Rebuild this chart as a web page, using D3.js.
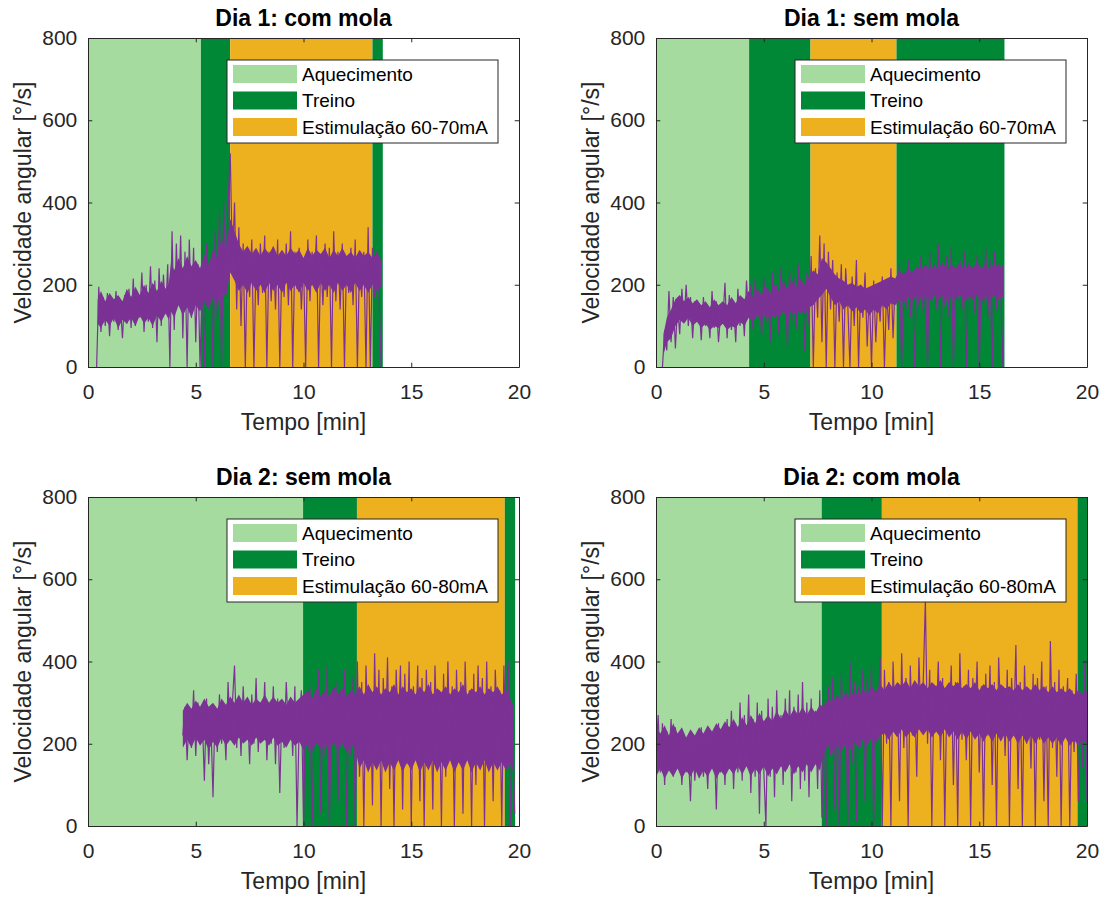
<!DOCTYPE html>
<html>
<head>
<meta charset="utf-8">
<script src="https://cdn.jsdelivr.net/npm/d3@7"></script>
<style>
body { margin: 0; background: #fff; }
text { font-family: "Liberation Sans", Arial, sans-serif; }
</style>
</head>
<body>
<svg id="fig" width="1110" height="897"></svg>
<script>
// panel titles and legend labels
var titles = ["Dia 1: com mola", "Dia 1: sem mola", "Dia 2: sem mola", "Dia 2: com mola"];
var legendDia1 = ["Aquecimento", "Treino", "Estimulação 60-70mA"];
var legendDia2 = ["Aquecimento", "Treino", "Estimulação 60-80mA"];

var xTicks = [0, 5, 10, 15, 20];
var yTicks = [0, 200, 400, 600, 800];

// phases: [start min, end min, phase index] 0 = aquecimento, 1 = treino, 2 = estimulacao
var phases1 = [[0, 5.24, 0], [5.24, 6.6, 1], [6.6, 13.2, 2], [13.2, 13.68, 1]];
var phases2 = [[0, 4.32, 0], [4.32, 7.17, 1], [7.17, 11.16, 2], [11.16, 16.17, 1]];
var phases3 = [[0, 9.98, 0], [9.98, 12.48, 1], [12.48, 19.34, 2], [19.34, 19.82, 1]];
var phases4 = [[0, 7.69, 0], [7.69, 10.48, 1], [10.48, 19.56, 2], [19.56, 20, 1]];

// angular velocity [deg/s] peaks, one sample every 0.1 min from the start time
var dt = 0.1;
var starts = [0.4, 0.3, 4.4, 0];

var sig1 = [0,
  195, 85, 170, 100, 180, 75, 160, 110, 185, 90, 150, 70, 175, 105, 190, 95,
  215, 100, 180, 120, 230, 85, 200, 110, 245, 95,
  210, 60, 240, 100, 225, 130, 250,
  0, 330, 90, 300, 150, 320, 70, 280,
  0, 310, 120, 290, 60, 250, 0,
  230, 0, 300, 160, 240, 0, 330, 120, 380, 0, 400, 180, 390,
  520, 250, 400, 140, 340, 100, 300,
  0, 290, 170, 310, 0, 270, 150, 300,
  180, 320, 0, 280, 160, 290, 140, 310, 0, 270,
  170, 300, 150, 330, 0, 280, 190, 290, 140, 260,
  0, 310, 160, 280, 200, 320, 0, 270, 150, 300,
  170, 290, 0, 330, 160, 280, 140, 300, 0, 270,
  180, 290, 150, 310, 0, 260, 170, 280, 0, 340,
  0, 290, 170, 280, 190, 0];

var sig2 = [0,
  90, 40, 185, 60, 170, 45, 150,
  80, 190, 110, 200, 100, 170, 70, 160, 120, 150,
  65, 170, 100, 140, 70, 185, 95, 160, 60, 130,
  110, 205, 70, 175, 90, 150, 60, 190, 100, 165, 75, 210,
  120, 200, 90, 215, 130, 180, 75, 220, 110, 190,
  60, 230, 120, 200, 80, 240, 140, 210, 50, 235,
  110, 220, 90, 250, 130, 200, 40, 230, 100,
  270, 0, 240, 120, 320, 60, 300, 0, 280,
  140, 260, 0, 230, 110, 250, 0, 240, 150, 0,
  220, 100, 260, 0, 200, 120, 230, 50, 190, 0,
  210, 60, 180, 110, 220, 0, 190, 90, 240, 70, 210,
  150, 250, 0, 230, 140, 260, 120, 220, 0,
  240, 150, 270, 130, 230, 0, 280, 160, 250, 140,
  300, 0, 240, 150, 270, 120, 290, 0, 230, 160,
  260, 140, 280, 0, 250, 170, 240, 130, 270, 0,
  230, 150, 290, 120, 260, 0, 280, 140, 250, 180, 0];

var sig3 = [
  220, 290, 160, 280, 190, 330, 170,
  300, 200, 270, 110, 310, 150, 260, 70, 290, 180,
  320, 200, 280, 160, 350, 210, 300, 390, 190, 310,
  170, 340, 220, 290, 150, 320, 200, 360, 180, 300,
  210, 350, 160, 290, 200, 340, 150, 310, 80, 290,
  190, 350, 230, 300, 170, 340, 0, 250, 330,
  0, 300, 180, 340, 0, 290, 200, 380, 30, 320, 170,
  390, 0, 300, 190, 350, 60, 330, 210, 380, 0, 310, 170, 360, 0,
  400, 120, 350, 0, 390, 210, 330, 50, 420, 160, 380,
  0, 360, 200, 410, 90, 340, 0, 380, 230, 390, 40,
  370, 150, 400, 0, 340, 200, 390, 60, 360, 0, 380,
  180, 350, 40, 390, 210, 330, 0, 370, 120, 400, 190,
  340, 0, 380, 160, 350, 30, 400, 210, 330, 0, 370,
  100, 390, 190, 360, 0, 400, 150, 340, 60, 380, 220,
  330, 0, 390, 140, 400, 0, 260, 30];

var sig4 = [
  170, 270, 130, 250, 100, 230, 150, 260, 120, 240, 140,
  210, 100, 200, 130, 180, 60, 220, 110, 190, 140,
  240, 120, 200, 90, 230, 150, 210, 40, 250, 130,
  220, 100, 260, 140, 280, 90, 240, 130, 300, 110,
  270, 150, 320, 80, 260, 120, 300, 30, 280, 140,
  0, 310, 120, 290, 70, 330, 150, 270, 100, 310,
  140, 330, 60, 290, 130, 320, 90, 350, 110, 300,
  70, 310, 150, 280, 90, 330, 20,
  300, 0, 340, 170, 360, 40, 310, 0, 370, 200,
  330, 0, 400, 150, 350, 10, 340, 190, 380, 60,
  360, 210, 390, 0, 330, 250, 410, 0,
  380, 200, 350, 0, 400, 230, 340, 60, 420, 190,
  360, 0, 390, 220, 330, 120, 410, 250, 350, 550,
  200, 380, 0, 340, 240, 400, 160, 360, 0, 330,
  230, 390, 100, 350, 0, 420, 210, 340, 160, 380,
  0, 360, 240, 400, 130, 340, 0, 370, 220, 390,
  100, 350, 0, 410, 250, 340, 170, 380, 0, 360,
  230, 440, 90, 350, 0, 390, 200, 330, 140, 370,
  0, 360, 210, 400, 60, 340, 0, 450, 190, 350,
  120, 380, 0, 340, 230, 360, 0, 330, 180, 370,
  60, 300, 140, 400, 60];

// dense core of the signal: [t min, lower deg/s, upper deg/s]
var core1 = [
  [0.45, 105, 165], [0.6, 95, 185], [0.8, 115, 160], [1.0, 100, 180], [1.2, 120, 165], [1.4, 95, 175],
  [1.6, 115, 160], [1.8, 105, 190], [2.0, 120, 170], [2.2, 100, 195], [2.4, 125, 175], [2.6, 105, 200],
  [2.8, 120, 180], [3.0, 100, 205], [3.2, 125, 185], [3.4, 110, 210], [3.6, 130, 190], [3.75, 115, 205],
  [3.85, 135, 255], [4.0, 120, 235], [4.2, 150, 265], [4.4, 125, 240], [4.6, 145, 270], [4.8, 120, 245],
  [5.0, 150, 260], [5.2, 135, 240], [5.4, 160, 275], [5.6, 140, 250], [5.8, 170, 285], [6.0, 150, 265],
  [6.2, 185, 310], [6.4, 170, 290], [6.6, 230, 360], [6.8, 210, 330], [7.0, 185, 300], [7.2, 200, 280],
  [7.4, 180, 295], [7.6, 205, 275], [7.8, 185, 290], [8.0, 200, 270], [8.2, 180, 290], [8.4, 205, 275],
  [8.6, 185, 295], [8.8, 200, 270], [9.0, 180, 285], [9.2, 205, 270], [9.4, 185, 290], [9.6, 200, 275],
  [9.8, 180, 285], [10.0, 205, 265], [10.2, 185, 290], [10.4, 200, 270], [10.6, 180, 285], [10.8, 205, 275],
  [11.0, 185, 290], [11.2, 200, 265], [11.4, 180, 285], [11.6, 205, 270], [11.8, 185, 290], [12.0, 200, 270],
  [12.2, 180, 280], [12.4, 205, 265], [12.6, 185, 285], [12.8, 200, 270], [13.0, 180, 280], [13.2, 200, 265],
  [13.4, 185, 280], [13.6, 195, 260]];
var core2 = [
  [0.35, 30, 80], [0.5, 60, 120], [0.7, 70, 140], [0.9, 100, 165], [1.1, 115, 175], [1.3, 105, 160],
  [1.5, 120, 170], [1.7, 100, 155], [1.9, 110, 165], [2.1, 95, 150], [2.3, 105, 160], [2.5, 90, 145],
  [2.7, 100, 165], [2.9, 95, 150], [3.1, 105, 160], [3.3, 90, 150], [3.5, 100, 170], [3.7, 95, 155],
  [3.9, 110, 175], [4.1, 100, 165], [4.3, 120, 185], [4.5, 110, 170], [4.7, 125, 190], [4.9, 115, 175],
  [5.1, 130, 195], [5.3, 115, 180], [5.5, 130, 200], [5.7, 120, 185], [5.9, 135, 205], [6.1, 120, 190],
  [6.3, 140, 210], [6.5, 125, 195], [6.7, 140, 215], [6.9, 130, 200], [7.1, 145, 220], [7.3, 150, 235],
  [7.5, 165, 225], [7.7, 175, 265], [7.9, 190, 255], [8.1, 170, 240], [8.3, 150, 225], [8.5, 160, 215],
  [8.7, 140, 210], [8.9, 150, 200], [9.1, 135, 205], [9.3, 145, 195], [9.5, 130, 200], [9.7, 140, 190],
  [9.9, 125, 195], [10.1, 140, 200], [10.3, 130, 205], [10.5, 150, 210], [10.7, 140, 215], [10.9, 155, 220],
  [11.1, 150, 215], [11.3, 165, 235], [11.5, 155, 225], [11.7, 170, 240], [11.9, 160, 230], [12.1, 175, 245],
  [12.3, 165, 235], [12.5, 170, 250], [12.7, 160, 235], [12.9, 175, 245], [13.1, 165, 240], [13.3, 175, 255],
  [13.5, 160, 235], [13.7, 170, 250], [13.9, 165, 240], [14.1, 175, 255], [14.3, 160, 235], [14.5, 170, 250],
  [14.7, 165, 240], [14.9, 175, 255], [15.1, 160, 240], [15.3, 170, 250], [15.5, 165, 235], [15.7, 175, 255],
  [15.9, 165, 240], [16.1, 170, 250]];
var core3 = [
  [4.4, 190, 280], [4.6, 210, 300], [4.8, 190, 285], [5.0, 215, 305], [5.2, 195, 290], [5.4, 210, 310],
  [5.6, 185, 290], [5.8, 205, 300], [6.0, 190, 285], [6.2, 215, 310], [6.4, 195, 295], [6.6, 210, 315],
  [6.8, 195, 300], [7.0, 215, 320], [7.2, 200, 300], [7.4, 210, 315], [7.6, 195, 295], [7.8, 215, 310],
  [8.0, 200, 300], [8.2, 210, 320], [8.4, 195, 300], [8.6, 215, 315], [8.8, 195, 300], [9.0, 205, 310],
  [9.2, 190, 295], [9.4, 210, 315], [9.6, 195, 300], [9.8, 205, 310], [10.0, 185, 320], [10.2, 200, 330],
  [10.4, 180, 310], [10.6, 205, 335], [10.8, 185, 315], [11.0, 200, 330], [11.2, 180, 315], [11.4, 205, 340],
  [11.6, 185, 320], [11.8, 200, 335], [12.0, 180, 315], [12.2, 200, 330], [12.4, 185, 320], [12.6, 140, 340],
  [12.8, 160, 320], [13.0, 130, 345], [13.2, 155, 325], [13.4, 135, 340], [13.6, 160, 320], [13.8, 130, 335],
  [14.0, 155, 325], [14.2, 135, 345], [14.4, 160, 320], [14.6, 130, 340], [14.8, 155, 325], [15.0, 135, 335],
  [15.2, 160, 320], [15.4, 130, 340], [15.6, 155, 325], [15.8, 135, 345], [16.0, 160, 320], [16.2, 130, 335],
  [16.4, 155, 325], [16.6, 135, 340], [16.8, 160, 320], [17.0, 130, 335], [17.2, 155, 325], [17.4, 135, 345],
  [17.6, 160, 320], [17.8, 130, 335], [18.0, 155, 325], [18.2, 135, 340], [18.4, 160, 320], [18.6, 130, 335],
  [18.8, 155, 325], [19.0, 135, 340], [19.2, 155, 320], [19.4, 135, 330], [19.6, 150, 310], [19.75, 130, 290]];
var core4 = [
  [0, 120, 240], [0.2, 140, 225], [0.4, 115, 245], [0.6, 135, 220], [0.8, 120, 250], [1.0, 140, 225],
  [1.2, 115, 240], [1.4, 135, 215], [1.6, 120, 235], [1.8, 140, 220], [2.0, 115, 240], [2.2, 135, 225],
  [2.4, 120, 245], [2.6, 140, 230], [2.8, 115, 250], [3.0, 135, 235], [3.2, 120, 255], [3.4, 140, 240],
  [3.6, 125, 260], [3.8, 145, 240], [4.0, 125, 265], [4.2, 145, 245], [4.4, 120, 270], [4.6, 140, 250],
  [4.8, 125, 275], [5.0, 145, 255], [5.2, 120, 270], [5.4, 140, 255], [5.6, 125, 280], [5.8, 145, 260],
  [6.0, 130, 285], [6.2, 150, 265], [6.4, 125, 285], [6.6, 145, 270], [6.8, 130, 290], [7.0, 150, 270],
  [7.2, 130, 290], [7.4, 150, 275], [7.6, 135, 295], [7.8, 180, 290], [8.0, 195, 310], [8.2, 175, 300],
  [8.4, 200, 320], [8.6, 180, 305], [8.8, 200, 325], [9.0, 185, 310], [9.2, 205, 330], [9.4, 190, 315],
  [9.6, 210, 335], [9.8, 195, 320], [10.0, 215, 340], [10.2, 200, 325], [10.4, 220, 345], [10.6, 225, 330],
  [10.8, 210, 350], [11.0, 230, 335], [11.2, 215, 350], [11.4, 235, 340], [11.6, 215, 355], [11.8, 230, 335],
  [12.0, 215, 355], [12.2, 235, 340], [12.4, 220, 350], [12.6, 235, 335], [12.8, 215, 350], [13.0, 230, 340],
  [13.2, 215, 355], [13.4, 235, 335], [13.6, 215, 350], [13.8, 230, 340], [14.0, 210, 350], [14.2, 230, 335],
  [14.4, 210, 345], [14.6, 230, 335], [14.8, 210, 350], [15.0, 225, 330], [15.2, 205, 345], [15.4, 225, 335],
  [15.6, 205, 345], [15.8, 225, 330], [16.0, 205, 345], [16.2, 225, 335], [16.4, 205, 340], [16.6, 220, 330],
  [16.8, 200, 345], [17.0, 220, 330], [17.2, 200, 340], [17.4, 220, 330], [17.6, 200, 345], [17.8, 220, 330],
  [18.0, 200, 340], [18.2, 215, 325], [18.4, 200, 340], [18.6, 215, 325], [18.8, 195, 335], [19.0, 215, 325],
  [19.2, 195, 335], [19.4, 210, 320], [19.6, 195, 330], [19.8, 210, 320], [20, 200, 330]];

var panels = [
  {title: titles[0], phases: phases1, legend: legendDia1, values: sig1, t0: starts[0], core: core1},
  {title: titles[1], phases: phases2, legend: legendDia1, values: sig2, t0: starts[1], core: core2},
  {title: titles[2], phases: phases3, legend: legendDia2, values: sig3, t0: starts[2], core: core3},
  {title: titles[3], phases: phases4, legend: legendDia2, values: sig4, t0: starts[3], core: core4}
];

var svg = d3.select("#fig"),
  W = 431,
  H = 329,
  origins = [[88, 38], [656, 38], [88, 497], [656, 497]],
  colors = ["#a6dba0", "#008837", "#edb120"],
  purple = "#7b3294",
  axisColor = "#262626";

panels.forEach(function (p, k) {
  var g = svg.append("g")
    .attr("transform", "translate(" + origins[k][0] + "," + origins[k][1] + ")");

  var xScale = d3.scaleLinear().domain([0, 20]).range([0, W]);
  var yScale = d3.scaleLinear().domain([0, 800]).range([H, 0]);

  g.append("clipPath").attr("id", "clip" + k)
    .append("rect").attr("width", W).attr("height", H);

  // phase bands
  g.selectAll("rect.band").data(p.phases).enter().append("rect")
    .attr("class", "band")
    .attr("x", function (d) { return xScale(d[0]); })
    .attr("width", function (d) { return xScale(d[1]) - xScale(d[0]); })
    .attr("y", 0)
    .attr("height", H)
    .attr("fill", function (d) { return colors[d[2]]; });

  // velocity signal: dense core + peaks
  var areaGen = d3.area()
    .x(function (d) { return xScale(d[0]); })
    .y0(function (d) { return yScale(d[1]); })
    .y1(function (d) { return yScale(d[2]); });

  g.append("path")
    .attr("d", areaGen(p.core))
    .attr("clip-path", "url(#clip" + k + ")")
    .attr("fill", purple);

  var lineGen = d3.line()
    .x(function (d, i) { return xScale(p.t0 + i * dt); })
    .y(function (d) { return yScale(d); });

  g.append("path")
    .attr("d", lineGen(p.values))
    .attr("clip-path", "url(#clip" + k + ")")
    .attr("fill", "none")
    .attr("stroke", purple)
    .attr("stroke-width", 1.2);

  // legend
  var lg = g.append("g").attr("transform", "translate(" + (W - 21 - 271) + ",22)");
  lg.append("rect")
    .attr("width", 271).attr("height", 83)
    .attr("fill", "#fff").attr("stroke", axisColor).attr("stroke-width", 1);
  p.legend.forEach(function (lab, i) {
    lg.append("rect")
      .attr("x", 6).attr("y", 5 + i * 26.5)
      .attr("width", 64).attr("height", 18)
      .attr("fill", colors[i]);
    lg.append("text")
      .attr("x", 75).attr("y", 14 + i * 26.5)
      .attr("dy", "0.35em")
      .style("font-size", "19px")
      .attr("fill", "#000")
      .text(lab);
  });

  // axes, ticks inside, box on
  var xAxis = d3.axisBottom(xScale).tickValues(xTicks).tickSizeInner(-4.3).tickSizeOuter(0).tickPadding(16.6);
  var yAxis = d3.axisLeft(yScale).tickValues(yTicks).tickSizeInner(-4.3).tickSizeOuter(0).tickPadding(10.7);
  var xTop = d3.axisTop(xScale).tickValues(xTicks).tickSizeInner(-4.3).tickSizeOuter(0).tickFormat("");
  var yRight = d3.axisRight(yScale).tickValues(yTicks).tickSizeInner(-4.3).tickSizeOuter(0).tickFormat("");

  var axes = [
    g.append("g").attr("transform", "translate(0," + H + ")").call(xAxis),
    g.append("g").call(yAxis),
    g.append("g").call(xTop),
    g.append("g").attr("transform", "translate(" + W + ",0)").call(yRight)
  ];
  axes.forEach(function (a) {
    a.attr("font-family", null).attr("font-size", null);
    a.select(".domain").attr("stroke", axisColor).attr("stroke-width", 1);
    a.selectAll(".tick line").attr("stroke", axisColor);
    a.selectAll(".tick text").attr("fill", axisColor).style("font-size", "21px");
  });

  // labels
  g.append("text")
    .attr("x", W / 2).attr("y", -12.5)
    .style("text-anchor", "middle")
    .style("font-size", "23px")
    .style("font-weight", "bold")
    .attr("fill", "#000")
    .text(p.title);

  g.append("text")
    .attr("x", W / 2).attr("y", H + 63)
    .style("text-anchor", "middle")
    .style("font-size", "23px")
    .attr("fill", axisColor)
    .text("Tempo [min]");

  g.append("text")
    .attr("transform", "rotate(-90)")
    .attr("x", -H / 2).attr("y", -57)
    .style("text-anchor", "middle")
    .style("font-size", "23px")
    .attr("fill", axisColor)
    .text("Velocidade angular [°/s]");
});
</script>
</body>
</html>
